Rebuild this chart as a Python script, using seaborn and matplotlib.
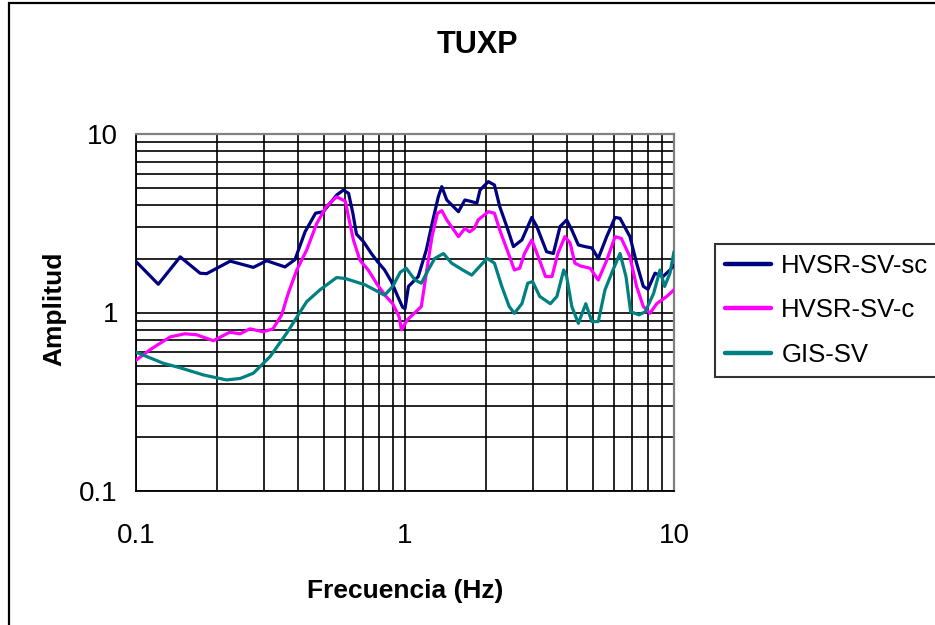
import matplotlib
matplotlib.use("Agg")
import matplotlib.pyplot as plt
from matplotlib import patches, ticker
import numpy as np
import pandas as pd
import seaborn as sns

# Spectral ratio curves for station TUXP (frequency in Hz, amplitude)
freq_sc = [0.100, 0.121, 0.146, 0.173, 0.183, 0.224, 0.273, 0.306, 0.358, 0.390,
           0.425, 0.465, 0.497, 0.557, 0.590, 0.617, 0.640, 0.660, 0.700, 0.750,
           0.790, 0.840, 0.890, 0.940, 0.980, 1.00, 1.03, 1.12, 1.20, 1.27,
           1.33, 1.37, 1.43, 1.58, 1.67, 1.77, 1.85, 1.90, 2.04, 2.15,
           2.25, 2.39, 2.53, 2.72, 2.96, 3.09, 3.36, 3.56, 3.77, 3.99,
           4.17, 4.41, 4.67, 4.95, 5.23, 5.62, 6.04, 6.30, 6.86, 7.26,
           7.69, 8.00, 8.50, 9.10, 9.66, 10.0]
amp_sc = [1.93, 1.44, 2.05, 1.66, 1.65, 1.94, 1.79, 1.95, 1.80, 1.98,
          2.83, 3.60, 3.67, 4.55, 4.85, 4.65, 3.60, 2.75, 2.50, 2.14,
          1.93, 1.73, 1.49, 1.23, 1.07, 1.05, 1.40, 1.59, 2.24, 3.30,
          4.45, 5.07, 4.27, 3.67, 4.27, 4.18, 4.10, 4.85, 5.41, 5.18,
          3.92, 3.03, 2.34, 2.55, 3.41, 3.03, 2.19, 2.14, 3.03, 3.30,
          2.90, 2.39, 2.34, 2.30, 2.01, 2.66, 3.41, 3.37, 2.66, 1.89,
          1.40, 1.35, 1.66, 1.59, 1.73, 1.84]

freq_c = [0.100, 0.113, 0.134, 0.152, 0.168, 0.194, 0.223, 0.244, 0.265, 0.297,
          0.323, 0.348, 0.368, 0.396, 0.431, 0.470, 0.510, 0.557, 0.600, 0.620,
          0.643, 0.680, 0.730, 0.790, 0.850, 0.900, 0.950, 0.970, 1.02, 1.15,
          1.20, 1.26, 1.32, 1.37, 1.43, 1.58, 1.67, 1.74, 1.81, 1.87,
          2.04, 2.15, 2.25, 2.45, 2.55, 2.67, 2.78, 2.96, 3.13, 3.33,
          3.52, 3.70, 3.93, 4.11, 4.28, 4.50, 4.88, 5.23, 5.62, 6.04,
          6.37, 6.86, 7.26, 7.69, 8.14, 8.62, 9.40, 10.0]
amp_c = [0.54, 0.62, 0.73, 0.76, 0.75, 0.695, 0.775, 0.76, 0.81, 0.78,
         0.81, 0.97, 1.28, 1.73, 2.24, 3.16, 3.92, 4.45, 4.20, 3.30,
         2.55, 1.96, 1.73, 1.43, 1.23, 1.12, 0.95, 0.80, 0.91, 1.08,
         1.66, 2.66, 3.60, 3.72, 3.30, 2.66, 2.96, 2.83, 2.96, 3.30,
         3.67, 3.60, 2.90, 2.05, 1.73, 1.77, 2.14, 2.55, 2.05, 1.59,
         1.59, 2.14, 2.66, 2.45, 1.89, 1.82, 1.77, 1.52, 1.96, 2.66,
         2.60, 2.05, 1.40, 1.08, 0.99, 1.12, 1.23, 1.34]

freq_gis = [0.100, 0.126, 0.146, 0.178, 0.217, 0.244, 0.273, 0.315, 0.363, 0.431,
            0.483, 0.557, 0.600, 0.710, 0.840, 0.900, 0.960, 1.01, 1.09, 1.15,
            1.22, 1.29, 1.39, 1.49, 1.64, 1.77, 1.90, 2.02, 2.15, 2.29,
            2.44, 2.55, 2.72, 2.86, 2.98, 3.17, 3.47, 3.67, 3.89, 3.99,
            4.17, 4.41, 4.70, 4.95, 5.23, 5.54, 5.93, 6.30, 6.63, 6.90,
            7.42, 7.82, 8.40, 8.87, 9.23, 9.66, 10.0]
amp_gis = [0.60, 0.52, 0.49, 0.447, 0.419, 0.427, 0.457, 0.566, 0.765, 1.15,
           1.34, 1.57, 1.55, 1.43, 1.25, 1.40, 1.68, 1.77, 1.52, 1.46,
           1.73, 2.01, 2.14, 1.89, 1.73, 1.62, 1.82, 2.01, 1.89, 1.40,
           1.08, 0.99, 1.12, 1.46, 1.49, 1.23, 1.12, 1.23, 1.73, 1.59,
           1.08, 0.87, 1.12, 0.89, 0.89, 1.34, 1.73, 2.14, 1.59, 1.01,
           0.97, 1.01, 1.28, 1.73, 1.40, 1.66, 2.19]

series_names = ["HVSR-SV-sc", "HVSR-SV-c", "GIS-SV"]
series_colors = ["#000080", "#FF00FF", "#008080"]
x_tick_values = [0.1, 1, 10]
x_tick_labels = ["0.1", "1", "10"]
y_tick_values = [0.1, 1, 10]
y_tick_labels = ["0.1", "1", "10"]

df = pd.concat([
    pd.DataFrame({"Frecuencia": freq_sc, "Amplitud": amp_sc, "serie": series_names[0]}),
    pd.DataFrame({"Frecuencia": freq_c, "Amplitud": amp_c, "serie": series_names[1]}),
    pd.DataFrame({"Frecuencia": freq_gis, "Amplitud": amp_gis, "serie": series_names[2]}),
], ignore_index=True)

sns.set_style("white")
plt.rcParams["font.family"] = ["Liberation Sans", "DejaVu Sans"]
plt.rcParams.update({"text.color": "black", "axes.labelcolor": "black",
                     "xtick.color": "black", "ytick.color": "black"})

W, H = 935, 625
fig = plt.figure(figsize=(W / 100, H / 100), dpi=100)
fig.patch.set_facecolor("white")
ax = fig.add_axes([136 / W, 1 - 491 / H, (674 - 136) / W, (491 - 134) / H])

sns.lineplot(data=df, x="Frecuencia", y="Amplitud", hue="serie",
             palette=dict(zip(series_names, series_colors)),
             hue_order=series_names, estimator=None, sort=False,
             linewidth=2.3, ax=ax, legend=False, zorder=3)

ax.set_xscale("log")
ax.set_yscale("log")
ax.set_xlim(0.1, 10)
ax.set_ylim(0.1, 10)

for axis, vals, labs in ((ax.xaxis, x_tick_values, x_tick_labels),
                         (ax.yaxis, y_tick_values, y_tick_labels)):
    axis.set_major_locator(ticker.FixedLocator(vals))
    axis.set_major_formatter(ticker.FixedFormatter(labs))
    axis.set_minor_locator(ticker.LogLocator(base=10, subs=np.arange(2, 10)))
    axis.set_minor_formatter(ticker.NullFormatter())

ax.grid(True, which="both", color="black", linewidth=1.2)
ax.set_axisbelow(True)
ax.tick_params(axis="both", which="major", direction="out", length=7,
               width=1.2, color="black", labelcolor="black", labelsize=20)
ax.tick_params(axis="x", which="major", pad=16)
ax.tick_params(axis="y", which="major", pad=6)
ax.tick_params(axis="both", which="minor", length=0)

for side in ("left", "bottom"):
    ax.spines[side].set_color("black")
    ax.spines[side].set_linewidth(1.3)
for side in ("top", "right"):
    ax.spines[side].set_visible(True)
    ax.spines[side].set_color("#808080")
    ax.spines[side].set_linewidth(1.6)

ax.set_xlabel("")
ax.set_ylabel("")
fig.text(405 / W, 1 - 591 / H, "Frecuencia (Hz)", ha="center", va="center",
         fontsize=19, fontweight="bold", color="black")
fig.text(54 / W, 1 - 309 / H, "Amplitud", ha="center", va="center",
         rotation=90, fontsize=19, fontweight="bold", color="black")
fig.text(477 / W, 1 - 45 / H, "TUXP", ha="center", va="center",
         fontsize=22, fontweight="bold", color="black")

handles = [plt.Line2D([], [], color=c, linewidth=3.2) for c in series_colors]
leg = fig.legend(handles, series_names, loc="upper left",
                 bbox_to_anchor=(715 / W, 1 - 244 / H), borderaxespad=0,
                 fontsize=18.5, frameon=True, fancybox=False, shadow=False,
                 handlelength=1.8, handletextpad=0.4, labelspacing=0.8,
                 borderpad=0.38, labelcolor="black")
leg.get_frame().set_edgecolor("black")
leg.get_frame().set_linewidth(1.5)
leg.get_frame().set_facecolor("white")

# chart-area border
fig.patches.append(patches.Rectangle((9 / W, -0.05), 1.2, 1 - 3 / H + 0.05,
                                     transform=fig.transFigure, fill=False,
                                     edgecolor="black", linewidth=1.6,
                                     clip_on=False))

fig.savefig("out.png", dpi=100, facecolor="white")
